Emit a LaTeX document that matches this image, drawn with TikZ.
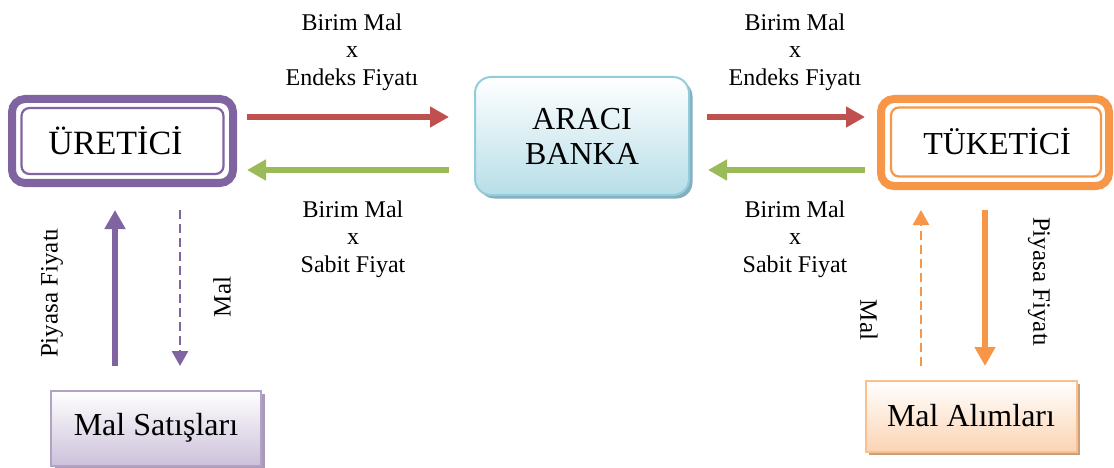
\documentclass[tikz,border=0pt]{standalone}
\usepackage{fontspec}
\setmainfont{Liberation Serif}
\usetikzlibrary{arrows.meta,shadows}

\definecolor{ureticicol}{HTML}{8064A2}
\definecolor{tuketicicol}{HTML}{F79646}
\definecolor{endekscol}{HTML}{C0504D}
\definecolor{sabitcol}{HTML}{9BBB59}
\definecolor{bankaline}{HTML}{93CDDD}
\definecolor{bankafill}{HTML}{B7DEE8}
\definecolor{bankashadow}{HTML}{84AFBE}
\definecolor{satisline}{HTML}{B3A2C7}
\definecolor{satisfill}{HTML}{CCC1DA}
\definecolor{satisshadow}{HTML}{A99BB8}
\definecolor{alimline}{HTML}{FAC090}
\definecolor{alimfill}{HTML}{FBD4B4}
\definecolor{alimshadow}{HTML}{C9A080}

\tikzset{
  bigtext/.style={font=\fontsize{32}{35}\selectfont, align=center},
  smalltext/.style={font=\fontsize{24}{27.5}\selectfont, align=center},
  sidetext/.style={font=\fontsize{25}{28}\selectfont},
  outerframe/.style={draw=#1, line width=8pt, rounded corners=13pt,
    inner sep=0pt, outer sep=0pt},
  innerframe/.style={draw=#1, line width=2.2pt, rounded corners=8pt,
    inner sep=0pt, outer sep=0pt},
  fatarrow/.style={draw=#1, line width=6pt,
    -{Triangle[length=19pt,width=20pt]}},
  thinarrow/.style={draw=#1, line width=2.8pt, dash pattern=on 9pt off 5pt,
    -{Triangle[length=15pt,width=16pt]}},
  shadebox/.style n args={3}{draw=#1, line width=2pt, top color=white,
    bottom color=#2, inner sep=0pt, outer sep=0pt,
    drop shadow={shadow xshift=3.5pt, shadow yshift=-3.5pt, fill=#3, opacity=1}},
}

\begin{document}
\begin{tikzpicture}[x=1pt, y=-1pt]
\useasboundingbox (0,0) rectangle (1114,468);

% producer, consumer and intermediary bank
\node[outerframe=ureticicol, minimum width=221pt, minimum height=84pt] (uretici) at (122.5,141) {};
\node[innerframe=ureticicol, minimum width=202pt, minimum height=66pt] (ureticiin) at (122.5,141) {};
\node[bigtext, font=\fontsize{34}{36}\selectfont] (ureticitext) at (115.5,141) {ÜRETİCİ};

\node[outerframe=tuketicicol, minimum width=228pt, minimum height=87pt] (tuketici) at (995,142.5) {};
\node[innerframe=tuketicicol, minimum width=210pt, minimum height=69pt] (tuketiciin) at (996,142) {};
\node[bigtext] (tuketicitext) at (997,141) {TÜKETİCİ};

\node[shadebox={bankaline}{bankafill}{bankashadow}, rounded corners=16pt,
  minimum width=214pt, minimum height=118pt, bigtext] (banka) at (582,136) {ARACI\\BANKA};

% market boxes
\node[shadebox={satisline}{satisfill}{satisshadow}, minimum width=210pt,
  minimum height=75pt, bigtext] (satis) at (156,428) {Mal Satışları};
\node[shadebox={alimline}{alimfill}{alimshadow}, minimum width=211pt,
  minimum height=71pt, bigtext] (alim) at (971,416) {Mal Alımları};

% ends of the flow arrows
\coordinate (lt1) at (247,117);   \coordinate (lt2) at (449,117);
\coordinate (lb1) at (449,170);   \coordinate (lb2) at (247,170);
\coordinate (rt1) at (707,117);   \coordinate (rt2) at (865,117);
\coordinate (rb1) at (865,170);   \coordinate (rb2) at (708,170);
\coordinate (lu1) at (115,366);   \coordinate (lu2) at (115,210);
\coordinate (ld1) at (180,210);   \coordinate (ld2) at (180,366);
\coordinate (ru1) at (921,366);   \coordinate (ru2) at (921,210);
\coordinate (rd1) at (985,210);   \coordinate (rd2) at (985,366);

% money and goods flows
\draw[fatarrow=endekscol] (lt1) -- (lt2);
\draw[fatarrow=sabitcol] (lb1) -- (lb2);
\draw[fatarrow=endekscol] (rt1) -- (rt2);
\draw[fatarrow=sabitcol] (rb1) -- (rb2);
\draw[fatarrow=ureticicol] (lu1) -- (lu2);
\draw[thinarrow=ureticicol] (ld1) -- (ld2);
\draw[thinarrow=tuketicicol] (ru1) -- (ru2);
\draw[fatarrow=tuketicicol] (rd1) -- (rd2);

% flow labels
\node[smalltext] (lendeks) at (352,52) {Birim Mal\\x\\Endeks Fiyatı};
\node[smalltext] (lsabit) at (353,239) {Birim Mal\\x\\Sabit Fiyat};
\node[smalltext] (rendeks) at (795,52) {Birim Mal\\x\\Endeks Fiyatı};
\node[smalltext] (rsabit) at (795,239) {Birim Mal\\x\\Sabit Fiyat};

\node[sidetext, rotate=90] (lpiyasa) at (52,293) {Piyasa Fiyatı};
\node[sidetext, rotate=90] (lmal) at (222,297) {Mal};
\node[sidetext, rotate=-90] (rmal) at (869,320) {Mal};
\node[sidetext, rotate=-90] (rpiyasa) at (1039,282) {Piyasa Fiyatı};
\end{tikzpicture}
\end{document}
